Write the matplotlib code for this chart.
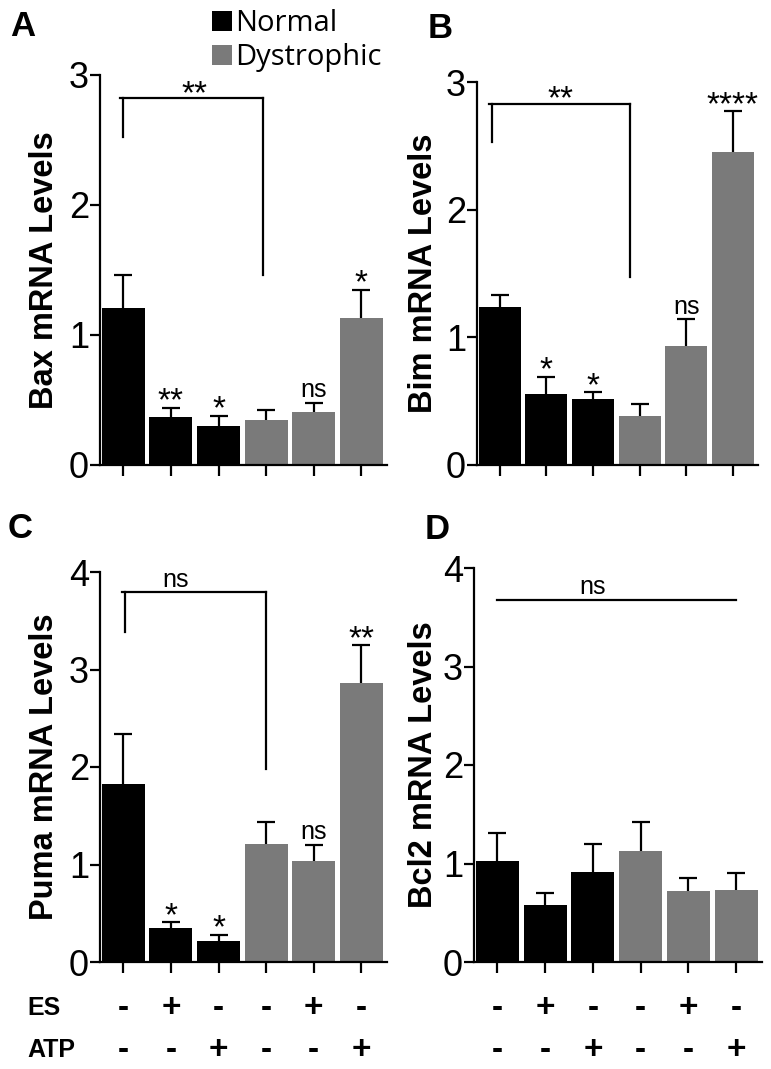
import matplotlib
matplotlib.use('Agg')
import matplotlib.pyplot as plt
import numpy as np

plt.rcParams['font.family'] = ['Liberation Sans', 'DejaVu Sans']

# condições (ES = estimulação elétrica)
groups = ['Normal', 'Dystrophic']
es = ['-', '+', '-', '-', '+', '-']
atp = ['-', '-', '+', '-', '-', '+']

# médias e SEM
bax_mean = [1.21, 0.37, 0.30, 0.35, 0.41, 1.13]
bax_sem = [0.25, 0.07, 0.08, 0.07, 0.07, 0.22]
bim_mean = [1.24, 0.555, 0.52, 0.38, 0.93, 2.45]
bim_sem = [0.09, 0.135, 0.05, 0.10, 0.21, 0.32]
puma_mean = [1.83, 0.35, 0.22, 1.21, 1.04, 2.86]
puma_sem = [0.51, 0.06, 0.06, 0.23, 0.16, 0.39]
bcl2_mean = [1.03, 0.58, 0.91, 1.13, 0.72, 0.73]
bcl2_sem = [0.28, 0.12, 0.29, 0.29, 0.13, 0.17]

# significância sobre cada barra
bax_sig = ['', '**', '*', '', 'ns', '*']
bim_sig = ['', '*', '*', '', 'ns', '****']
puma_sig = ['', '*', '*', '', 'ns', '**']
bcl2_sig = ['', '', '', '', '', '']

# colchetes: (x esquerda, x direita, y topo, y fim esquerda, y fim direita, texto, x texto)
bax_bracket = [0.0, 2.93, 2.82, 2.52, 1.46, '**', 1.5]
bim_bracket = [-0.17, 2.8, 2.83, 2.53, 1.47, '**', 1.3]
puma_bracket = [0.04, 3.0, 3.79, 3.38, 1.98, 'ns', 1.1]
bcl2_line = [0.0, 5.0, 3.68, 'ns', 2.0]

black = '#000000'
gray = '#7a7a7a'
W, H = 771, 1069

fig = plt.figure(figsize=(W / 100, H / 100), dpi=100)


def px_axes(left, right, top, bottom):
    return fig.add_axes([left / W, (H - bottom) / H, (right - left) / W, (bottom - top) / H])


def ns_text(ax, x, y, dy):
    ax.annotate('ns', (x, y), xytext=(0, dy), textcoords='offset points',
                ha='center', va='baseline', fontsize=18)


def draw_panel(ax, means, sems, sig, ymax, ylabel):
    x = np.arange(6)
    means = np.array(means)
    sems = np.array(sems)
    # barra de erro simétrica atrás da barra: só a metade de cima aparece
    ekw = dict(ecolor='black', elinewidth=1.6, capsize=6.5, capthick=1.6, zorder=0.5)
    b1 = ax.bar(x[:3], means[:3], width=0.9, color=black, zorder=1,
                yerr=sems[:3], error_kw=ekw, label=groups[0])
    b2 = ax.bar(x[3:], means[3:], width=0.9, color=gray, zorder=1,
                yerr=sems[3:], error_kw=ekw, label=groups[1])
    for i in range(6):
        if sig[i] == '':
            continue
        top = means[i] + sems[i]
        if sig[i] == 'ns':
            ns_text(ax, i, top, 4)
        else:
            ax.annotate(sig[i], (i, top), xytext=(0, -2), textcoords='offset points',
                        ha='center', va='baseline', fontsize=24)
    ax.set_xlim(-0.49, 5.54)
    ax.set_ylim(0, ymax)
    ax.set_yticks(range(ymax + 1))
    ax.set_xticks(x)
    ax.set_xticklabels([])
    ax.spines['top'].set_visible(False)
    ax.spines['right'].set_visible(False)
    ax.spines['left'].set_linewidth(1.6)
    ax.spines['bottom'].set_linewidth(1.6)
    ax.spines['left'].set_zorder(3)
    ax.spines['bottom'].set_zorder(3)
    ax.tick_params(axis='y', length=7, width=1.6, labelsize=26, pad=1)
    ax.tick_params(axis='x', length=8, width=1.6)
    ax.set_ylabel(ylabel, fontsize=23.5, fontweight='bold')
    ax.yaxis.set_label_coords(-0.139, 0.5)
    return b1, b2


def draw_bracket(ax, br):
    xl, xr, yt, yl, yr, txt, xt = br
    ax.plot([xl - 0.06, xr], [yt, yt], color='black', lw=1.6, clip_on=False)
    ax.plot([xl, xl], [yt, yl], color='black', lw=1.6, clip_on=False)
    ax.plot([xr, xr], [yt, yr], color='black', lw=1.6, clip_on=False)
    if txt == 'ns':
        ns_text(ax, xt, yt, 3.6)
    else:
        ax.annotate(txt, (xt, yt), xytext=(0, -3.6), textcoords='offset points',
                    ha='center', va='baseline', fontsize=24)


axA = px_axes(100, 387, 75, 465)
axB = px_axes(477, 758, 82, 465)
axC = px_axes(100, 387, 572, 962)
axD = px_axes(474, 762, 568, 962)

hA = draw_panel(axA, bax_mean, bax_sem, bax_sig, 3, 'Bax mRNA Levels')
draw_panel(axB, bim_mean, bim_sem, bim_sig, 3, 'Bim mRNA Levels')
draw_panel(axC, puma_mean, puma_sem, puma_sig, 4, 'Puma mRNA Levels')
draw_panel(axD, bcl2_mean, bcl2_sem, bcl2_sig, 4, 'Bcl2 mRNA Levels')
axB.yaxis.set_label_coords(-0.135, 0.5)
axD.yaxis.set_label_coords(-0.122, 0.5)

draw_bracket(axA, bax_bracket)
draw_bracket(axB, bim_bracket)
draw_bracket(axC, puma_bracket)
xl, xr, yt, txt, xt = bcl2_line
axD.plot([xl, xr], [yt, yt], color='black', lw=1.6)
ns_text(axD, xt, yt, 4.3)

# linhas ES / ATP abaixo dos painéis C e D
for ax, yrow in [(axC, (-0.118, -0.226)), (axD, (-0.117, -0.224))]:
    tr = ax.get_xaxis_transform()
    for i in range(6):
        ax.text(i, yrow[0], es[i], transform=tr, ha='center', va='center',
                fontsize=24, fontweight='bold')
        ax.text(i, yrow[1], atp[i], transform=tr, ha='center', va='center',
                fontsize=24, fontweight='bold')
fig.text(27 / W, 1 - 1008 / H, 'ES', ha='left', va='center', fontsize=18, fontweight='bold')
fig.text(27 / W, 1 - 1050 / H, 'ATP', ha='left', va='center', fontsize=18, fontweight='bold')

# legenda
fig.legend(handles=list(hA), labels=groups, loc='upper left',
           bbox_to_anchor=(212 / W, 1 - 9 / H), frameon=False,
           prop={'family': 'Open Sans', 'size': 21},
           handlelength=0.68, handleheight=0.68, handletextpad=0.12,
           labelspacing=0.18, borderpad=0, borderaxespad=0)

# letras dos painéis
for lab, x, y in [('A', 10, 10), ('B', 428, 12), ('C', 8, 512), ('D', 425, 513)]:
    fig.text(x / W, 1 - y / H, lab, ha='left', va='top', fontsize=25, fontweight='bold')

fig.savefig('out.png', dpi=100)
